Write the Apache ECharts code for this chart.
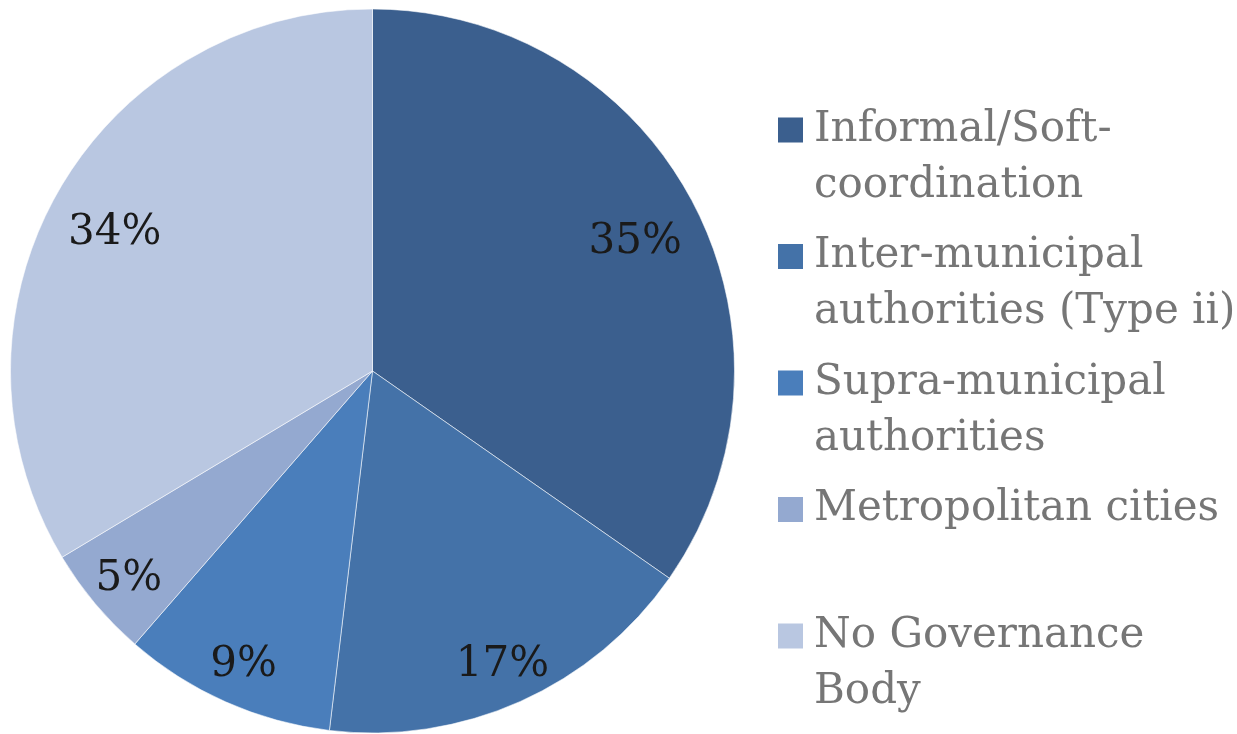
<!DOCTYPE html>
<html>
<head>
<meta charset="utf-8">
<script src="https://cdn.jsdelivr.net/npm/echarts@6/dist/echarts.min.js"></script>
<style>
html,body{margin:0;padding:0;background:#fff;}
#chart{width:1237px;height:734px;}
</style>
</head>
<body>
<div id="chart"></div>
<script>
// Categories (legend labels, wrapped as in the reference)
const categories = [
  'Informal/Soft-\ncoordination',
  'Inter-municipal\nauthorities (Type ii)',
  'Supra-municipal\nauthorities',
  'Metropolitan cities',
  'No Governance\nBody'
];
// Shares (%)
const shares = [34.7, 17.2, 9.5, 5.0, 33.6];
// Slice colours
const colors = ['#3B5F8E', '#4472A8', '#4A7EBB', '#94A9D0', '#B9C7E1'];

const chart = echarts.init(document.getElementById('chart'), null, {renderer: 'canvas'});

const center = [372.5, 371];
const R = 362;
const serif = 'DejaVu Serif';

function labelSeries(inner, outer, dy, test) {
  return {
    type: 'pie',
    silent: true,
    center: center,
    radius: [inner, outer],
    startAngle: 90,
    clockwise: true,
    percentPrecision: 0,
    itemStyle: {color: 'rgba(0,0,0,0)', borderWidth: 0},
    emphasis: {disabled: true},
    labelLine: {show: false},
    labelLayout: {dy: dy},
    label: {
      position: 'inside',
      formatter: '{d}%',
      fontFamily: serif,
      fontSize: 42,
      color: '#1a1a1a'
    },
    data: categories.map((n, i) => ({name: n, value: shares[i], label: {show: test(shares[i])}}))
  };
}

const option = {
  animation: false,
  color: colors,
  legend: {
    orient: 'vertical',
    left: 773,
    top: 97,
    itemGap: 14.5,
    itemWidth: 31,
    itemHeight: 112,
    icon: 'path://M0,0L31,0M0,15.5L25,15.5L25,40.5L0,40.5ZM0,112L31,112',
    itemStyle: {borderWidth: 0},
    selectedMode: false,
    data: categories,
    formatter: function (name) { return name.indexOf('\n') < 0 ? name + '\n ' : name; },
    textStyle: {fontFamily: serif, fontSize: 42, lineHeight: 56, color: '#767676'}
  },
  series: [
    {
      type: 'pie',
      center: center,
      radius: [0, R],
      startAngle: 90,
      clockwise: true,
      label: {show: false},
      labelLine: {show: false},
      emphasis: {disabled: true},
      itemStyle: {borderColor: 'rgba(255,255,255,0.55)', borderWidth: 1},
      data: categories.map((n, i) => ({name: n, value: shares[i]}))
    },
    labelSeries(R * 0.70, R * 0.92, 8, v => v >= 20),
    labelSeries(R * 0.78, R * 0.96, 4, v => v < 20)
  ]
};
chart.setOption(option);
</script>
</body>
</html>
